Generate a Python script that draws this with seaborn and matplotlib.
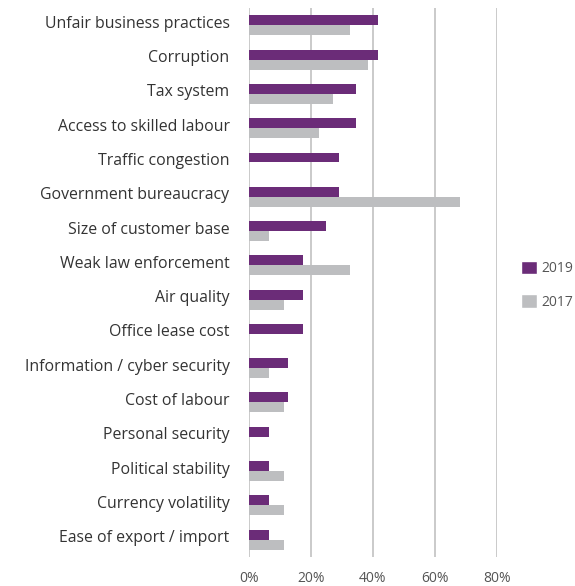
import matplotlib
matplotlib.use("Agg")
import matplotlib.pyplot as plt
import seaborn as sns
import pandas as pd
from matplotlib.patches import Patch
from matplotlib.ticker import FuncFormatter
from matplotlib.transforms import ScaledTranslation

categories = [
    "Unfair business practices", "Corruption", "Tax system",
    "Access to skilled labour", "Traffic congestion", "Government bureaucracy",
    "Size of customer base", "Weak law enforcement", "Air quality",
    "Office lease cost", "Information / cyber security", "Cost of labour",
    "Personal security", "Political stability", "Currency volatility",
    "Ease of export / import",
]
values_2019 = [41.7, 41.7, 34.5, 34.5, 29.0, 29.0, 24.8, 17.4, 17.4,
               17.4, 12.6, 12.6, 6.5, 6.5, 6.5, 6.5]
values_2017 = [32.6, 38.4, 27.1, 22.6, 0, 68.0, 6.5, 32.6, 11.3,
               0, 6.5, 11.3, 0, 11.3, 11.3, 11.3]
series = ["2019", "2017"]
x_ticks = [0, 20, 40, 60, 80]

df = pd.DataFrame({
    "category": categories * 2,
    "value": values_2019 + values_2017,
    "year": [series[0]] * len(categories) + [series[1]] * len(categories),
})

sns.set_theme(style="white")
plt.rcParams["font.family"] = ["Open Sans", "DejaVu Sans"]

purple = "#6b2c78"
grey = "#bdbec0"
palette = {"2019": purple, "2017": grey}

fig = plt.figure(figsize=(5.75, 5.86), dpi=100)
ax = fig.add_axes([0.433, 0.05, 0.431, 0.936])

sns.barplot(data=df, y="category", x="value", hue="year", order=categories,
            hue_order=series, palette=palette, orient="h", width=0.58,
            gap=0, saturation=1, linewidth=0, ax=ax, legend=False)

ax.set_xlim(0, 80)
ax.set_xticks(x_ticks)
ax.xaxis.set_major_formatter(FuncFormatter(lambda v, p: f"{v:.0f}%"))
ax.grid(axis="x", color="#c6c6c6", linewidth=1.3)
ax.set_axisbelow(True)
for s in ax.spines.values():
    s.set_visible(False)
ax.tick_params(axis="both", length=0)
ax.tick_params(axis="y", labelsize=11.4, labelcolor="#333333", pad=14)
ax.tick_params(axis="x", labelsize=10, labelcolor="#555555", pad=10)
ax.set_xlabel("")
ax.set_ylabel("")

# nudge the category labels slightly above the bar-group centre
lift = ScaledTranslation(0, 2.5 / 72, fig.dpi_scale_trans)
for lab in ax.get_yticklabels():
    lab.set_transform(lab.get_transform() + lift)

handles = [Patch(facecolor=palette[s], label=s) for s in series]
fig.legend(handles=handles, loc="center left", bbox_to_anchor=(0.885, 0.513),
           frameon=False, fontsize=10, labelcolor="#555555",
           handlelength=1.1, handleheight=1.1, handletextpad=0.35,
           labelspacing=1.3)

fig.savefig("out.png", dpi=100)
